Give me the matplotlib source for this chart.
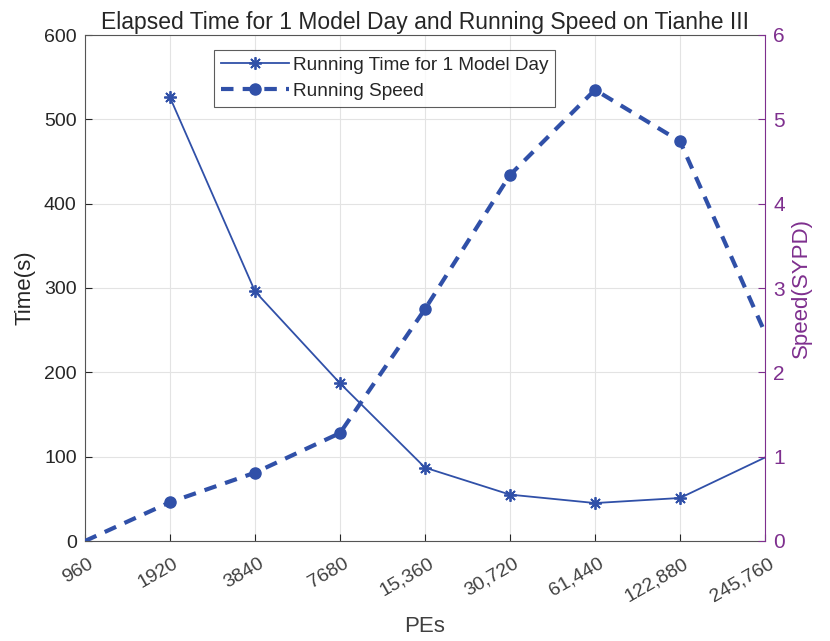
import matplotlib.pyplot as plt
import matplotlib.transforms as mtransforms
import numpy as np

plt.rcParams['font.family'] = ['Liberation Sans', 'DejaVu Sans']

pes = ['960', '1920', '3840', '7680', '15,360', '30,720', '61,440', '122,880', '245,760']
# elapsed seconds per model day (no run at 960)
run_time = [np.nan, 526, 296, 187, 87, 55, 45, 51, 99]
# simulated years per day
speed = [0, 0.46, 0.81, 1.28, 2.75, 4.34, 5.35, 4.74, 2.47]

blue = '#3050A8'
purple = '#7E2F8E'
axcol = '#262626'

x = np.arange(len(pes))
fig = plt.figure(figsize=(8.3, 6.41), dpi=100)
ax = fig.add_axes([85 / 830, 1 - 541 / 641, 680 / 830, 506 / 641])
ax2 = ax.twinx()

l1, = ax.plot(x, run_time, '-', color=blue, lw=1.3, marker=(8, 2, 0), ms=9, mew=1.3,
              markevery=list(range(1, 8)), label='Running Time for 1 Model Day')
l2, = ax2.plot(x, speed, '--', color=blue, lw=3, marker='o', ms=8,
               dashes=(3, 2.2), markevery=list(range(1, 8)), label='Running Speed')

ax.set_xlim(0, 8)
ax.set_ylim(0, 600)
ax2.set_ylim(0, 6)
ax.set_xticks(x)
ax.set_xticklabels([])
# rotated PE labels, top-right corner just right of each tick
lbl_tr = ax.get_xaxis_transform() + mtransforms.ScaledTranslation(
    3 / 100, -14 / 100, fig.dpi_scale_trans)
for xi, s in zip(x, pes):
    ax.text(xi, 0, s, transform=lbl_tr, rotation=30, rotation_mode='anchor',
            ha='right', va='top', fontsize=14, color='#404040')
ax.set_yticks(np.arange(0, 601, 100))
ax.tick_params(axis='y', labelsize=14, colors=axcol, direction='in', length=5, pad=6)
ax.tick_params(axis='x', direction='in', length=5, colors=axcol)
ax2.set_yticks(np.arange(0, 7, 1))
ax2.tick_params(axis='y', labelsize=15, colors=purple, direction='in', length=5, pad=6)
ax.grid(True, color='#E3E3E3', lw=0.8)
ax.set_axisbelow(True)

for s in ['left', 'bottom', 'top']:
    ax.spines[s].set_color('#555555')
for s in ['left', 'bottom', 'top']:
    ax2.spines[s].set_visible(False)
ax2.spines['right'].set_color(purple)
ax.spines['right'].set_visible(False)

ax.set_xlabel('PEs', fontsize=16, color='#404040')
ax.xaxis.set_label_coords(0.5, -0.148)
ax.set_ylabel('Time(s)', fontsize=16, color=axcol, labelpad=6)
ax2.set_ylabel('Speed(SYPD)', fontsize=16, color=purple, labelpad=4)
ax.set_title('Elapsed Time for 1 Model Day and Running Speed on Tianhe III',
             fontsize=16.5, color=axcol, pad=4)

leg = ax2.legend(handles=[l1, l2], loc='upper left', bbox_to_anchor=(0.19, 0.97),
                 fontsize=13.7, frameon=True, fancybox=False, edgecolor='#333333',
                 handlelength=3.6, borderpad=0.35, labelspacing=0.45, handletextpad=0.2,
                 borderaxespad=0)
leg.get_frame().set_linewidth(0.8)
for t in leg.get_texts():
    t.set_color(axcol)

fig.savefig('out.png', dpi=100)
